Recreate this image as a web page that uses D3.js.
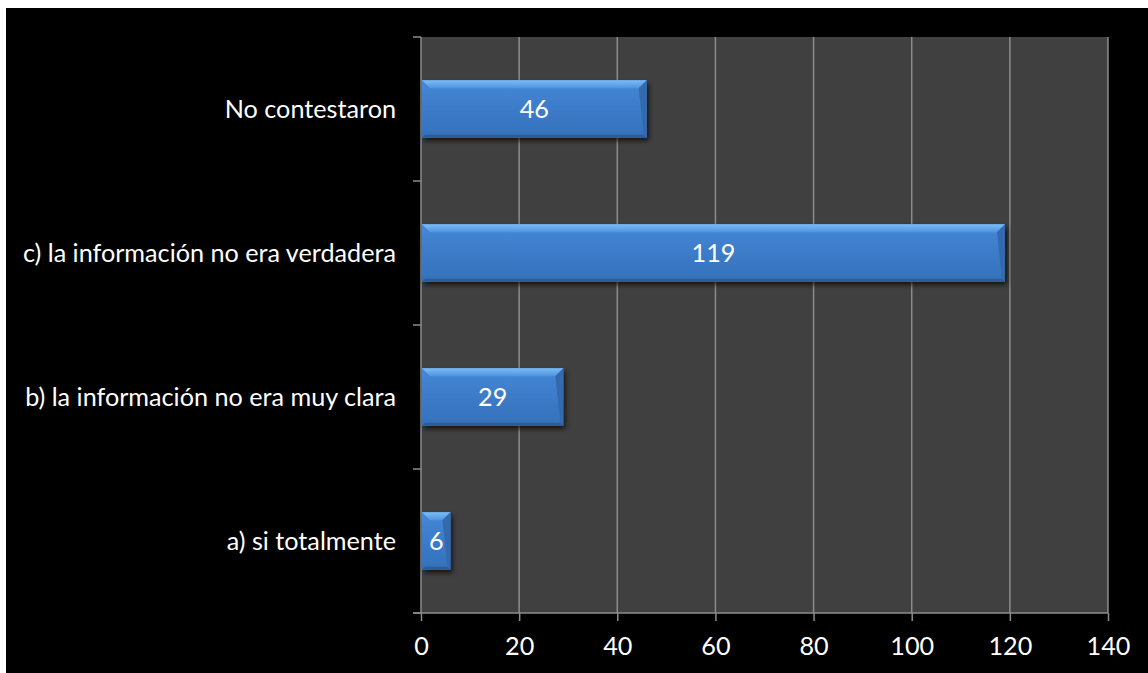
<!DOCTYPE html>
<html><head><meta charset="utf-8">
<script src="https://cdn.jsdelivr.net/npm/d3@7"></script>
<style>
html,body{margin:0;padding:0;background:#fff;}
svg{display:block;}
</style></head>
<body>
<script>
const categories = ["a) si totalmente", "b) la información no era muy clara", "c) la información no era verdadera", "No contestaron"];
const values = [6, 29, 119, 46];
const xTicks = [0, 20, 40, 60, 80, 100, 120, 140];

(function () {
const W = 1148, H = 673;
const FONT = "Lato, 'Open Sans', sans-serif", FS = 25.2;
const svg = d3.select("body").append("svg").attr("width", W).attr("height", H);
svg.append("rect").attr("x", 6).attr("y", 8).attr("width", W - 6).attr("height", H - 8).attr("fill", "#000");

const pL = 421, pR = 1108, pT = 37, pB = 613;
const x = d3.scaleLinear().domain([0, 140]).range([pL, pR]);
const y = d3.scaleBand().domain(categories.slice().reverse()).range([pT, pB]).paddingInner(0.6).paddingOuter(0.3);
const yT = d3.scaleBand().domain(categories.slice().reverse()).range([pT, pB]);

const defs = svg.append("defs");
const g1 = defs.append("linearGradient").attr("id", "barg").attr("x1", 0).attr("y1", 0).attr("x2", 0).attr("y2", 1);
g1.append("stop").attr("offset", "0%").attr("stop-color", "#4588d6");
g1.append("stop").attr("offset", "50%").attr("stop-color", "#3c7bc8");
g1.append("stop").attr("offset", "100%").attr("stop-color", "#3571bb");
const g2 = defs.append("linearGradient").attr("id", "topg").attr("x1", 0).attr("y1", 0).attr("x2", 0).attr("y2", 1);
g2.append("stop").attr("offset", "0%").attr("stop-color", "#7cbcf6");
g2.append("stop").attr("offset", "100%").attr("stop-color", "#4f93e0");
const f = defs.append("filter").attr("id", "sh").attr("x", "-10%").attr("y", "-20%").attr("width", "130%").attr("height", "160%");
f.append("feDropShadow").attr("dx", 2).attr("dy", 3).attr("stdDeviation", 2.5).attr("flood-color", "#000").attr("flood-opacity", 0.7);

svg.append("rect").attr("x", pL).attr("y", pT).attr("width", pR - pL).attr("height", pB - pT).attr("fill", "#404040");

svg.append("g").selectAll("line").data(xTicks.slice(1)).join("line")
  .attr("x1", d => x(d)).attr("x2", d => x(d)).attr("y1", pT).attr("y2", pB)
  .attr("stroke", "#8c8c8c").attr("stroke-width", 1.5);

const xAxis = svg.append("g").attr("transform", `translate(0,${pB})`)
  .call(d3.axisBottom(x).tickValues(xTicks).tickSize(8).tickPadding(16).tickFormat(d3.format("d")));
xAxis.select(".domain").attr("stroke", "#8c8c8c").attr("stroke-width", 1.5).attr("d", `M${pL - 8},0H${pR}`);
xAxis.selectAll(".tick line").attr("stroke", "#8c8c8c").attr("stroke-width", 1.5);
xAxis.selectAll(".tick text").attr("fill", "#fff").attr("font-family", FONT).attr("font-size", FS);

const yAxisG = svg.append("g").attr("transform", `translate(${pL},0)`);
yAxisG.append("line").attr("x1", 0).attr("x2", 0).attr("y1", pT).attr("y2", pB).attr("stroke", "#8c8c8c").attr("stroke-width", 1.5);
const bounds = [pT].concat(categories.slice().reverse().map(c => yT(c) + yT.bandwidth()));
yAxisG.selectAll("line.t").data(bounds).join("line").attr("class", "t")
  .attr("x1", -8).attr("x2", 0).attr("y1", d => d).attr("y2", d => d)
  .attr("stroke", "#8c8c8c").attr("stroke-width", 1.5);
yAxisG.selectAll("text").data(categories).join("text")
  .attr("x", -25).attr("y", d => yT(d) + yT.bandwidth() / 2)
  .attr("dy", "0.35em").attr("text-anchor", "end").attr("fill", "#fff")
  .attr("font-family", FONT).attr("font-size", FS)
  .text(d => d);

const data = categories.map((c, i) => ({ c, v: values[i] }));
const bars = svg.append("g").selectAll("g").data(data).join("g");
bars.each(function (d) {
  const g = d3.select(this);
  const x0 = x(0) + 1, x1 = x(d.v), y0 = y(d.c), y1 = y0 + y.bandwidth();
  const b = Math.min(8, (x1 - x0) / 3);
  const bb = 3;
  g.append("rect").attr("x", x0).attr("y", y0).attr("width", x1 - x0).attr("height", y1 - y0)
    .attr("fill", "url(#barg)").attr("filter", "url(#sh)");
  g.append("polygon").attr("points", `${x0},${y0} ${x1},${y0} ${x1 - b},${y0 + b} ${x0 + b},${y0 + b}`).attr("fill", "url(#topg)");
  g.append("polygon").attr("points", `${x0},${y1} ${x1},${y1} ${x1 - bb},${y1 - bb} ${x0 + bb},${y1 - bb}`).attr("fill", "#2b5c9c");
  g.append("polygon").attr("points", `${x1},${y0} ${x1 - b},${y0 + b} ${x1 - bb},${y1 - bb} ${x1},${y1}`).attr("fill", "#3569ae");
  g.append("text").attr("x", (x0 + x1) / 2).attr("y", (y0 + y1) / 2).attr("dy", "0.35em")
    .attr("text-anchor", "middle").attr("fill", "#fff")
    .attr("font-family", FONT).attr("font-size", FS).text(d.v);
});
})();
</script>
</body></html>
